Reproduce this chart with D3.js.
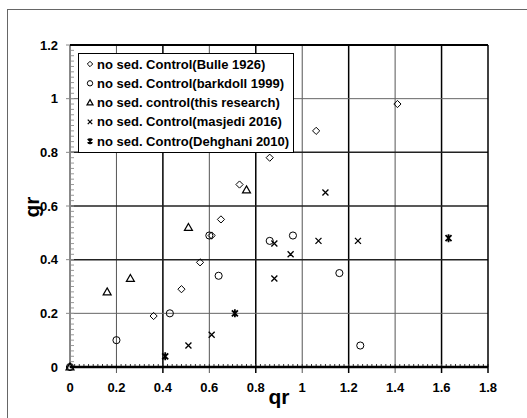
<!DOCTYPE html>
<html>
<head>
<meta charset="utf-8">
<script src="https://cdn.jsdelivr.net/npm/d3@7"></script>
<style>
  body { margin: 0; background: #fff; }
  svg text { font-family: "Liberation Sans Narrow", "Arial Narrow", "Liberation Sans", Arial, sans-serif; font-weight: bold; }
</style>
</head>
<body>
<svg id="chart" width="527" height="418"></svg>
<script>
// series values: [qr, gr]
const bulle = [[0, 0], [0.36, 0.19], [0.48, 0.29], [0.56, 0.39], [0.61, 0.49], [0.65, 0.55],
               [0.73, 0.68], [0.86, 0.78], [1.06, 0.88], [1.41, 0.98]];
const barkdoll = [[0, 0], [0.2, 0.1], [0.43, 0.2], [0.6, 0.49], [0.64, 0.34], [0.86, 0.47],
                  [0.96, 0.49], [1.16, 0.35], [1.25, 0.08]];
const thisResearch = [[0, 0], [0.16, 0.28], [0.26, 0.33], [0.51, 0.52], [0.76, 0.66]];
const masjedi = [[0.51, 0.08], [0.61, 0.12], [0.88, 0.33], [0.88, 0.46], [0.95, 0.42],
                 [1.07, 0.47], [1.1, 0.65], [1.24, 0.47]];
const dehghani = [[0.41, 0.04], [0.71, 0.2], [1.63, 0.48]];

const legendLabels = [
  "no sed. Control(Bulle 1926)",
  "no sed. Control(barkdoll 1999)",
  "no sed. control(this research)",
  "no sed. Control(masjedi 2016)",
  "no sed. Contro(Dehghani 2010)"
];
const xTicks = [0, 0.2, 0.4, 0.6, 0.8, 1, 1.2, 1.4, 1.6, 1.8];
const yTicks = [0, 0.2, 0.4, 0.6, 0.8, 1, 1.2];

const svg = d3.select("#chart");

// outer chart frame (runs off the right/bottom edge)
svg.append("rect")
  .attr("x", 7.5).attr("y", 9.5)
  .attr("width", 600).attr("height", 500)
  .attr("fill", "none").attr("stroke", "#666").attr("stroke-width", 1);

const x = d3.scaleLinear().domain([0, 1.8]).range([70, 488]);
const y = d3.scaleLinear().domain([0, 1.2]).range([367, 45]);

// grid lines: every other line darker
const majorX = v => Math.round(v * 10) % 4 === 0;
svg.append("g").selectAll("line")
  .data(xTicks.slice(1, -1))
  .join("line")
  .attr("x1", d => x(d)).attr("x2", d => x(d))
  .attr("y1", y(1.2)).attr("y2", y(0) + 6)
  .attr("stroke", d => majorX(d) ? "#000" : "#555")
  .attr("stroke-width", d => majorX(d) ? 1.5 : 1);

const darkY = v => v > 0.3 && v < 0.9;
svg.append("g").selectAll("line")
  .data(yTicks.slice(1, -1))
  .join("line")
  .attr("x1", x(0)).attr("x2", x(1.8))
  .attr("y1", d => y(d)).attr("y2", d => y(d))
  .attr("stroke", d => darkY(d) ? "#222" : "#666")
  .attr("stroke-width", d => darkY(d) ? 1.5 : 1);

// minor ticks
const minor = d3.range(0, 91).map(i => i * 0.02);
svg.append("g").selectAll("line")
  .data(minor.filter(v => v <= 1.8))
  .join("line")
  .attr("x1", d => x(d)).attr("x2", d => x(d))
  .attr("y1", y(0)).attr("y2", y(0) - 3)
  .attr("stroke", "#333").attr("stroke-width", 1);
svg.append("g").selectAll("line")
  .data(minor.filter(v => v <= 1.2))
  .join("line")
  .attr("x1", x(0)).attr("x2", x(0) + 4)
  .attr("y1", d => y(d)).attr("y2", d => y(d))
  .attr("stroke", "#999").attr("stroke-width", 1);

// axes and frame of plot
svg.append("line").attr("x1", x(0)).attr("x2", x(0)).attr("y1", y(1.2)).attr("y2", y(0))
  .attr("stroke", "#888").attr("stroke-width", 2);
svg.append("g").selectAll("line")
  .data(yTicks)
  .join("line")
  .attr("x1", x(0) - 4).attr("x2", x(0))
  .attr("y1", d => y(d)).attr("y2", d => y(d))
  .attr("stroke", "#888").attr("stroke-width", 1);
svg.append("line").attr("x1", x(0)).attr("x2", x(1.8)).attr("y1", y(0)).attr("y2", y(0))
  .attr("stroke", "#000").attr("stroke-width", 2.5);
svg.append("line").attr("x1", x(0)).attr("x2", x(1.8)).attr("y1", y(1.2)).attr("y2", y(1.2))
  .attr("stroke", "#000").attr("stroke-width", 2);
svg.append("line").attr("x1", x(1.8)).attr("x2", x(1.8)).attr("y1", y(1.2)).attr("y2", y(0) + 6)
  .attr("stroke", "#000").attr("stroke-width", 1.5);

// tick labels
svg.append("g").selectAll("text")
  .data(xTicks)
  .join("text")
  .attr("x", d => x(d)).attr("y", 392)
  .attr("text-anchor", "middle").attr("font-size", 13)
  .text(d => d);
svg.append("g").selectAll("text")
  .data(yTicks)
  .join("text")
  .attr("x", 58).attr("y", d => y(d) + 4.5)
  .attr("text-anchor", "end").attr("font-size", 13)
  .text(d => d);

// axis titles
svg.append("text").attr("x", 279).attr("y", 404)
  .attr("text-anchor", "middle").attr("font-size", 21).text("qr");
svg.append("text")
  .attr("transform", "translate(39,207) rotate(-90)")
  .attr("text-anchor", "middle").attr("font-size", 21).text("gr");

// marker shapes
const shapes = {
  diamond: "M0,-3.6L3.6,0L0,3.6L-3.6,0Z",
  circle: d3.symbol(d3.symbolCircle, 40)(),
  triangle: "M0,-4L4,3L-4,3Z",
  cross: "M-3,-3L3,3M3,-3L-3,3",
  star: "M-3,-3L3,3M3,-3L-3,3M0,-4L0,4"
};
const series = [
  { data: bulle, shape: "diamond", w: 1 },
  { data: barkdoll, shape: "circle", w: 1 },
  { data: thisResearch, shape: "triangle", w: 1.2 },
  { data: masjedi, shape: "cross", w: 1.3 },
  { data: dehghani, shape: "star", w: 1.8 }
];

series.forEach(s => {
  svg.append("g").selectAll("path")
    .data(s.data)
    .join("path")
    .attr("transform", d => `translate(${x(d[0])},${y(d[1])})`)
    .attr("d", shapes[s.shape])
    .attr("fill", "none").attr("stroke", "#000").attr("stroke-width", s.w);
});

// legend
const legend = svg.append("g");
legend.append("rect")
  .attr("x", 78.5).attr("y", 53.5).attr("width", 215).attr("height", 99)
  .attr("fill", "#fff").attr("stroke", "#000").attr("stroke-width", 1);
series.forEach((s, i) => {
  const ly = 64 + i * 19.3;
  legend.append("path")
    .attr("transform", `translate(90,${ly}) scale(0.75)`)
    .attr("d", shapes[s.shape])
    .attr("fill", "none").attr("stroke", "#000").attr("stroke-width", s.w / 0.75);
  legend.append("text")
    .attr("x", 97).attr("y", ly + 4.5)
    .attr("font-size", 13)
    .text(legendLabels[i]);
});
</script>
</body>
</html>
